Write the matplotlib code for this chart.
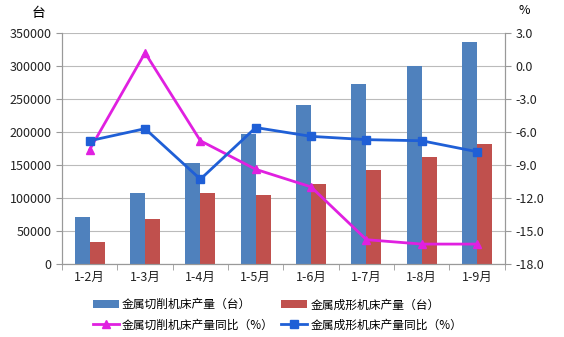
import matplotlib
matplotlib.use("Agg")
import matplotlib.pyplot as plt
import numpy as np

plt.rcParams['font.family'] = ['Noto Sans CJK SC', 'DejaVu Sans']

months = ["1-2月", "1-3月", "1-4月", "1-5月", "1-6月", "1-7月", "1-8月", "1-9月"]
cutting = [71000, 108000, 152500, 197000, 240500, 273000, 300000, 336500]
forming = [33500, 67500, 107000, 104500, 121500, 143000, 161500, 181000]
cutting_yoy = [-7.6, 1.2, -6.8, -9.4, -11.0, -15.8, -16.2, -16.2]
forming_yoy = [-6.8, -5.7, -10.3, -5.6, -6.4, -6.7, -6.8, -7.8]

x = np.arange(len(months))
w = 0.27

fig = plt.figure(figsize=(5.64, 3.37), dpi=100)
ax = fig.add_axes([0.110, 0.217, 0.785, 0.685])
ax2 = ax.twinx()

b1 = ax.bar(x - w / 2, cutting, w, color='#4F81BD', label='金属切削机床产量（台）', zorder=2)
b2 = ax.bar(x + w / 2, forming, w, color='#C0504D', label='金属成形机床产量（台）', zorder=2)

l1, = ax2.plot(x, cutting_yoy, color='#E020E0', lw=2, marker='^', ms=6,
               label='金属切削机床产量同比（%）')
l2, = ax2.plot(x, forming_yoy, color='#1F5FD6', lw=2, marker='s', ms=6,
               label='金属成形机床产量同比（%）')

ax.set_xlim(-0.5, len(months) - 0.5)
ax.set_ylim(0, 350000)
ax.set_yticks(np.arange(0, 350001, 50000))
ax2.set_ylim(-18, 3)
ax2.set_yticks(np.arange(-18, 3.1, 3))
ax2.set_yticklabels(["%.1f" % v for v in np.arange(-18, 3.1, 3)])

ax.set_xticks(x)
ax.set_xticklabels(months)
ax.set_xticks(np.arange(-0.5, len(months), 1), minor=True)
ax.tick_params(axis='x', which='major', length=0, labelsize=9, pad=5, colors='#222222')
ax.tick_params(axis='x', which='minor', length=4, color='#999999')
ax.tick_params(axis='y', length=4, color='#999999', labelsize=9, colors='#222222')
ax2.tick_params(axis='y', length=4, color='#999999', labelsize=9, colors='#222222')

ax.grid(axis='y', color='#BBBBBB', lw=0.8, zorder=0)
ax.set_axisbelow(True)
for a in (ax, ax2):
    a.spines['top'].set_visible(False)
    a.spines['left'].set_color('#999999')
    a.spines['right'].set_color('#999999')
    a.spines['bottom'].set_color('#999999')

fig.text(0.068, 0.96, "台", fontsize=10, ha='center', va='center')
fig.text(0.930, 0.968, "%", fontsize=9, ha='center', va='center')

# legend: bars on first row, lines on second row (column-wise fill)
fig.legend(handles=[b1, l1, b2, l2], loc='lower center', bbox_to_anchor=(0.492, -0.015),
           ncol=2, frameon=False, fontsize=8.5, handlelength=2.2, handletextpad=0.3,
           columnspacing=0.6, labelspacing=0.6)

fig.savefig("out.png", dpi=100)
